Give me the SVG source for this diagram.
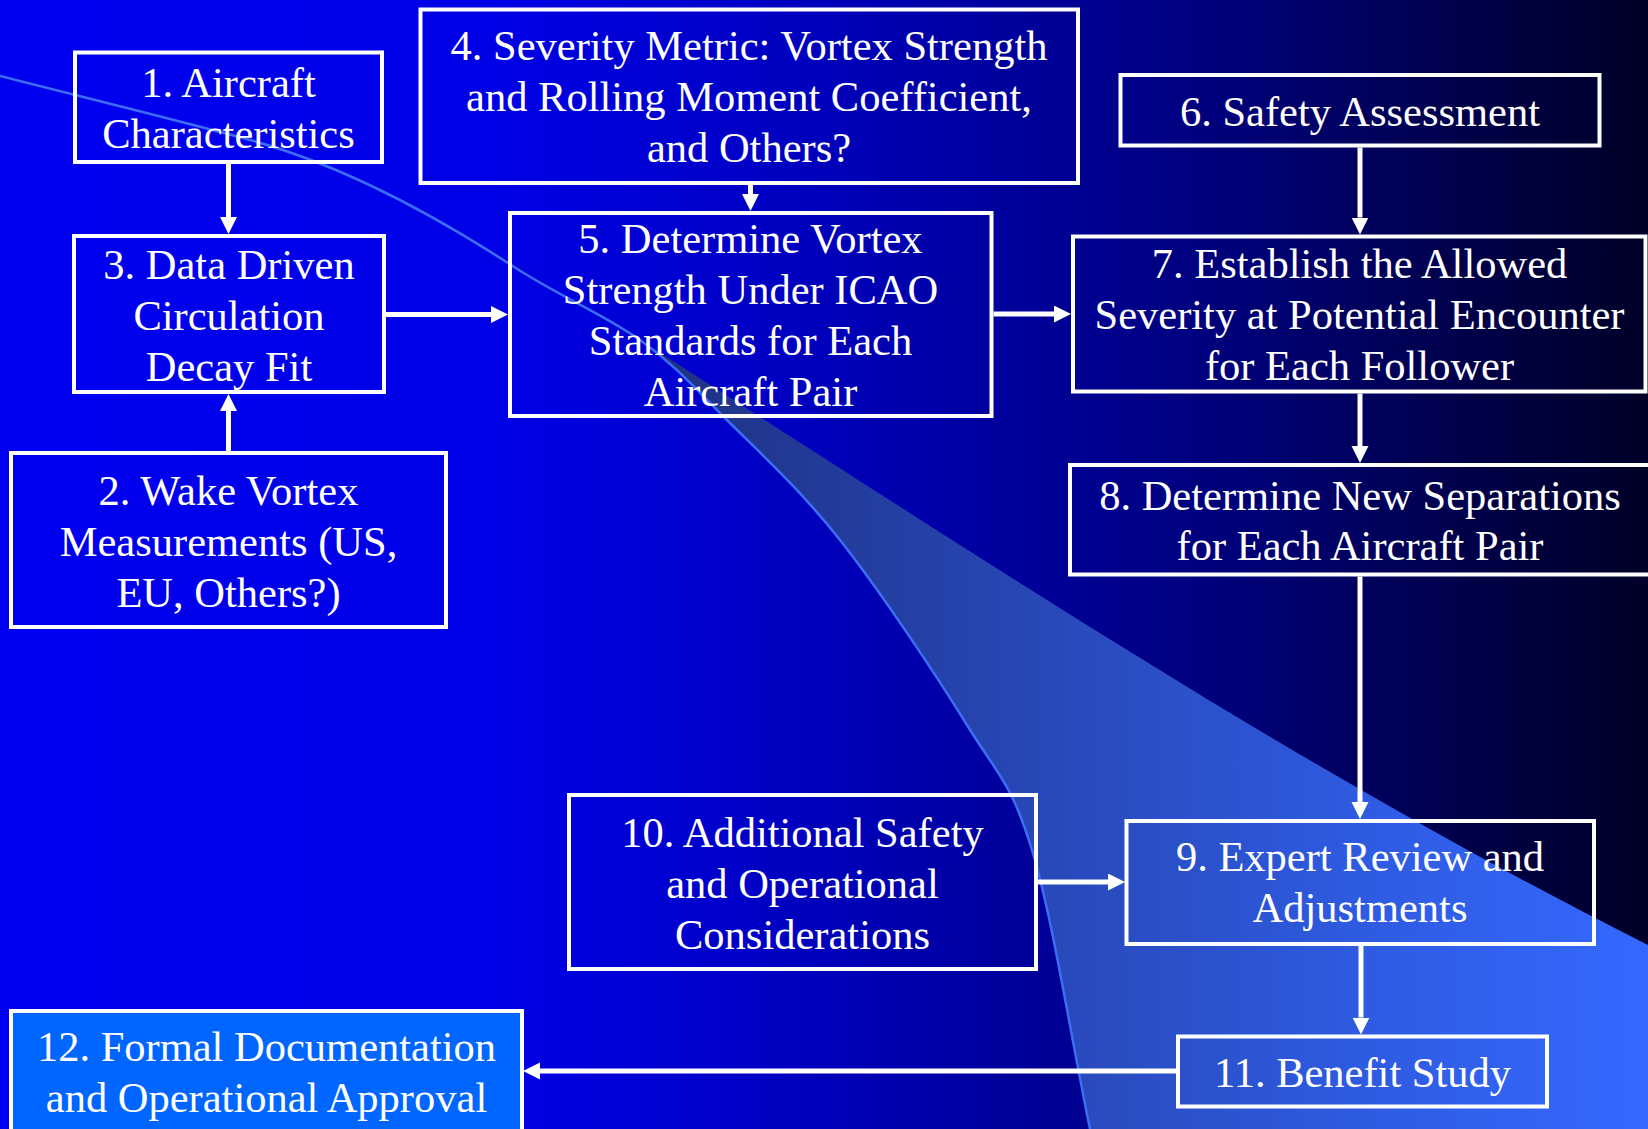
<svg xmlns="http://www.w3.org/2000/svg" width="1648" height="1129" viewBox="0 0 1648 1129">
<defs>
<linearGradient id="bg" gradientUnits="userSpaceOnUse" x1="0" y1="0" x2="1648" y2="0">
<stop offset="0" stop-color="#0000F0"/>
<stop offset="0.3" stop-color="#0000E6"/>
<stop offset="0.45" stop-color="#0000C8"/>
<stop offset="0.6" stop-color="#0000A0"/>
<stop offset="0.75" stop-color="#000078"/>
<stop offset="0.9" stop-color="#000046"/>
<stop offset="1" stop-color="#000028"/>
</linearGradient>
<linearGradient id="wedge" gradientUnits="userSpaceOnUse" x1="640" y1="0" x2="1648" y2="0">
<stop offset="0" stop-color="#1E3080"/>
<stop offset="0.4" stop-color="#2848B8"/>
<stop offset="0.7" stop-color="#2E5ADF"/>
<stop offset="1" stop-color="#3468FF"/>
</linearGradient>
<marker id="ah" markerUnits="userSpaceOnUse" markerWidth="18" markerHeight="18" refX="0" refY="8.5" orient="auto" viewBox="0 0 18 18">
<path d="M0,0 L17,8.5 L0,17 Z" fill="#FFFFFF"/>
</marker>
</defs>
<style>
.box{fill:none;stroke:#FFFFFF;stroke-width:4}
.box12{fill:#0066FF;stroke:#FFFFFF;stroke-width:4}
.t{font-family:"Liberation Serif","Times New Roman",serif;font-size:42.5px;fill:#FFFFFF;text-anchor:middle}
.c{fill:none;stroke:#FFFFFF;stroke-width:5;marker-end:url(#ah)}
</style>
<rect x="0" y="0" width="1648" height="1129" fill="url(#bg)"/>
<path d="M640,340 C1000,570 1300,770 1648,945 L1648,1129 L1090,1129 C1070.7,1036 1052.5,917.3 1032,850 C1011.5,782.7 999,776.7 967,725 C935,673.3 880,590.8 840,540 C800,489.2 760.3,453.3 727,420 C693.7,386.7 676,365.8 640,340 Z" fill="url(#wedge)"/>
<path d="M0,76 C83.3,97.3 165,117 250,140 C337,163.5 424,208.4 511,265 C560,297 604,314.2 640,340 C676,365.8 693.7,386.7 727,420 C760.3,453.3 800,489.2 840,540 C880,590.8 935,673.3 967,725 C999,776.7 1011.5,782.7 1032,850 C1052.5,917.3 1070.7,1036 1090,1129" fill="none" stroke="#3B6EF5" stroke-width="2.5"/>

<g id="n1"><rect class="box" x="75" y="52.5" width="307" height="109.5"/>
<text class="t" x="228.5" y="96.7">1. Aircraft</text>
<text class="t" x="228.5" y="147.7">Characteristics</text></g>

<g id="n2"><rect class="box" x="11" y="453" width="435" height="174"/>
<text class="t" x="228.5" y="505">2. Wake Vortex</text>
<text class="t" x="228.5" y="556">Measurements (US,</text>
<text class="t" x="228.5" y="607">EU, Others?)</text></g>

<g id="n3"><rect class="box" x="74" y="236" width="310" height="156"/>
<text class="t" x="229" y="279">3. Data Driven</text>
<text class="t" x="229" y="330">Circulation</text>
<text class="t" x="229" y="381">Decay Fit</text></g>

<g id="n4"><rect class="box" x="420.5" y="9.5" width="657.5" height="173.5"/>
<text class="t" x="749" y="60">4. Severity Metric: Vortex Strength</text>
<text class="t" x="749" y="111">and Rolling Moment Coefficient,</text>
<text class="t" x="749" y="162">and Others?</text></g>

<g id="n5"><rect class="box" x="510" y="213" width="481.5" height="203"/>
<text class="t" x="750.5" y="253">5. Determine Vortex</text>
<text class="t" x="750.5" y="304">Strength Under ICAO</text>
<text class="t" x="750.5" y="355">Standards for Each</text>
<text class="t" x="750.5" y="406">Aircraft Pair</text></g>

<g id="n6"><rect class="box" x="1120.5" y="75" width="479" height="70.5"/>
<text class="t" x="1360" y="126">6. Safety Assessment</text></g>

<g id="n7"><rect class="box" x="1073" y="236.5" width="572.5" height="155"/>
<text class="t" x="1359.5" y="278">7. Establish the Allowed</text>
<text class="t" x="1359.5" y="329">Severity at Potential Encounter</text>
<text class="t" x="1359.5" y="380">for Each Follower</text></g>

<g id="n8"><rect class="box" x="1070" y="465" width="582" height="109.5"/>
<text class="t" x="1360" y="510">8. Determine New Separations</text>
<text class="t" x="1360" y="560">for Each Aircraft Pair</text></g>

<g id="n9"><rect class="box" x="1126.5" y="821" width="467.5" height="123"/>
<text class="t" x="1360" y="871">9. Expert Review and</text>
<text class="t" x="1360" y="921.5">Adjustments</text></g>

<g id="n10"><rect class="box" x="569" y="795" width="467" height="174"/>
<text class="t" x="802.5" y="847">10. Additional Safety</text>
<text class="t" x="802.5" y="898">and Operational</text>
<text class="t" x="802.5" y="949">Considerations</text></g>

<g id="n11"><rect class="box" x="1178" y="1036.5" width="369" height="70"/>
<text class="t" x="1362.5" y="1086.7">11. Benefit Study</text></g>

<g id="n12"><rect class="box12" x="11" y="1011" width="511" height="130"/>
<text class="t" x="266.5" y="1060.7">12. Formal Documentation</text>
<text class="t" x="266.5" y="1111.7">and Operational Approval</text></g>

<g id="connectors">
<path class="c" d="M228.5,164 L228.5,217"/>
<path class="c" d="M228.5,451 L228.5,411"/>
<path class="c" d="M750.5,185 L750.5,194"/>
<path class="c" d="M386,314.5 L491,314.5"/>
<path class="c" d="M993.5,314 L1054,314"/>
<path class="c" d="M1360,147.5 L1360,217.5"/>
<path class="c" d="M1360,393.5 L1360,446"/>
<path class="c" d="M1360,576.5 L1360,802"/>
<path class="c" d="M1038,882 L1108,882"/>
<path class="c" d="M1361,946 L1361,1017.5"/>
<path class="c" d="M1176,1071 L540,1071"/>
</g>
</svg>
